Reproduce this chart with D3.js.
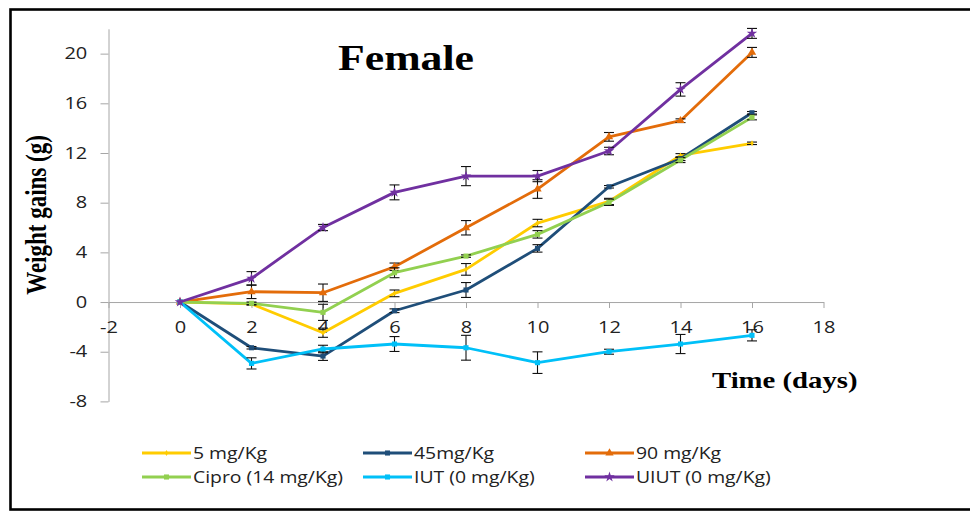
<!DOCTYPE html>
<html>
<head>
<meta charset="utf-8">
<script src="https://cdn.jsdelivr.net/npm/d3@7"></script>
<style>
html, body { margin: 0; padding: 0; background: #fff; }
svg { display: block; }
</style>
</head>
<body>
<div id="chart"></div>
<script>
// data
var days = [0, 2, 4, 6, 8, 10, 12, 14, 16];
var xTicks = [-2, 0, 2, 4, 6, 8, 10, 12, 14, 16, 18];
var yTicks = [-8, -4, 0, 4, 8, 12, 16, 20];
var seriesNames = ['5 mg/Kg', '45mg/Kg', '90 mg/Kg', 'Cipro (14 mg/Kg)', 'IUT (0 mg/Kg)', 'UIUT (0 mg/Kg)'];

var mg5 = [0, -0.15, -2.47, 0.7, 2.63, 6.36, 8.1, 11.8, 12.78];
var mg5Err = [0, 0.1, 0.37, 0.27, 0.47, 0.3, 0.25, 0.15, 0.1];
var mg45 = [0, -3.68, -4.35, -0.7, 0.97, 4.32, 9.28, 11.54, 15.24];
var mg45Err = [0, 0.1, 0.35, 0.15, 0.6, 0.3, 0.1, 0.15, 0.1];
var mg90 = [0, 0.83, 0.75, 2.84, 5.98, 9.1, 13.3, 14.6, 20.1];
var mg90Err = [0, 0.55, 0.7, 0.3, 0.58, 0.75, 0.35, 0.15, 0.4];
var cipro = [0, -0.1, -0.83, 2.36, 3.7, 5.45, 8.03, 11.43, 14.87];
var ciproErr = [0, 0.1, 0.65, 0.4, 0.1, 0.3, 0.25, 0.2, 0.2];
var iut = [0, -4.94, -3.78, -3.38, -3.68, -4.88, -4.0, -3.38, -2.68];
var iutErr = [0, 0.45, 0.3, 0.6, 1.0, 0.87, 0.2, 0.77, 0.45];
var uiut = [0, 1.9, 6.0, 8.83, 10.14, 10.14, 12.16, 17.12, 21.63];
var uiutErr = [0, 0.55, 0.25, 0.6, 0.77, 0.45, 0.3, 0.54, 0.4];

var W = 970, H = 511;
var SX = 1.25; // source image is stretched horizontally, text too

var series = [
	{ name: seriesNames[0], values: mg5, err: mg5Err, color: '#ffcc00', symbol: d3.symbolDiamond, size: 10 },
	{ name: seriesNames[1], values: mg45, err: mg45Err, color: '#1f4e79', symbol: d3.symbolSquare, size: 26 },
	{ name: seriesNames[2], values: mg90, err: mg90Err, color: '#e36c0a', symbol: d3.symbolTriangle, size: 30 },
	{ name: seriesNames[3], values: cipro, err: ciproErr, color: '#92d050', symbol: d3.symbolSquare, size: 26 },
	{ name: seriesNames[4], values: iut, err: iutErr, color: '#00c0f8', symbol: d3.symbolSquare, size: 26 },
	{ name: seriesNames[5], values: uiut, err: uiutErr, color: '#7030a0', symbol: d3.symbolStar, size: 34 }
];

var svg = d3.select('#chart').append('svg')
	.attr('xmlns', 'http://www.w3.org/2000/svg')
	.attr('width', W).attr('height', H);

svg.append('rect').attr('width', W).attr('height', H).attr('fill', '#fff');
// frame (right edge falls outside the picture)
svg.append('rect')
	.attr('x', 10.5).attr('y', 9.5).attr('width', 990).attr('height', 500)
	.attr('fill', 'none').attr('stroke', '#000').attr('stroke-width', 2.6);

var x = d3.scaleLinear().domain([-2, 18]).range([108.5, 823.5]);
var y = d3.scaleLinear().domain([-8, 22]).range([401.4, 28.8]);

function drawText(g, px, py, str, size, family, weight, anchor, rot) {
	return g.append('text')
		.attr('transform', 'translate(' + px + ',' + py + ') scale(' + SX + ',1)' + (rot ? ' rotate(' + rot + ')' : ''))
		.attr('font-family', family)
		.attr('font-size', size)
		.attr('font-weight', weight || 'normal')
		.attr('text-anchor', anchor || 'start')
		.attr('fill', '#000')
		.text(str);
}

// axes, plain hyphen for negatives like the source
var fmt = function (d) { return String(d); };
var yAxis = svg.append('g').attr('class', 'y-axis').attr('transform', 'translate(' + x(-2) + ',0)')
	.call(d3.axisLeft(y).tickValues(yTicks).tickFormat(fmt).tickSize(8).tickSizeOuter(0).tickPadding(9));
var xAxis = svg.append('g').attr('class', 'x-axis').attr('transform', 'translate(0,' + y(0) + ')')
	.call(d3.axisBottom(x).tickValues(xTicks).tickFormat(fmt).tickSize(6).tickSizeOuter(0).tickPadding(14));

[yAxis, xAxis].forEach(function (g) {
	g.select('.domain').attr('stroke', '#a6a6a6');
	g.selectAll('.tick line').attr('stroke', '#a6a6a6');
	g.selectAll('.tick text')
		.attr('font-family', 'Open Sans, sans-serif')
		.attr('font-size', 16)
		.attr('fill', '#222');
});
yAxis.selectAll('.tick text').attr('transform', 'scale(' + SX + ',1)');
xAxis.selectAll('.tick text').attr('transform', 'scale(' + SX + ',1)');

// series: line, error bars, markers
var line = d3.line().x(function (d) { return x(d.day); }).y(function (d) { return y(d.v); });

series.forEach(function (s) {
	var pts = days.map(function (d, i) { return { day: d, v: s.values[i], e: s.err[i] }; });
	var g = svg.append('g').attr('class', 'series');
	g.append('path').datum(pts)
		.attr('d', line)
		.attr('fill', 'none')
		.attr('stroke', s.color)
		.attr('stroke-width', 2.8)
		.attr('stroke-linejoin', 'round');

	var eb = g.selectAll('.err').data(pts.filter(function (p) { return p.e > 0; })).enter().append('g')
		.attr('stroke', '#111').attr('stroke-width', 1.1);
	eb.append('line')
		.attr('x1', function (p) { return x(p.day); }).attr('x2', function (p) { return x(p.day); })
		.attr('y1', function (p) { return y(p.v + p.e); }).attr('y2', function (p) { return y(p.v - p.e); });
	eb.append('line')
		.attr('x1', function (p) { return x(p.day) - 5; }).attr('x2', function (p) { return x(p.day) + 5; })
		.attr('y1', function (p) { return y(p.v + p.e); }).attr('y2', function (p) { return y(p.v + p.e); });
	eb.append('line')
		.attr('x1', function (p) { return x(p.day) - 5; }).attr('x2', function (p) { return x(p.day) + 5; })
		.attr('y1', function (p) { return y(p.v - p.e); }).attr('y2', function (p) { return y(p.v - p.e); });

	g.selectAll('.mk').data(pts).enter().append('path')
		.attr('transform', function (p) { return 'translate(' + x(p.day) + ',' + y(p.v) + ')'; })
		.attr('d', d3.symbol().type(s.symbol).size(s.size))
		.attr('fill', s.color);
});

// titles
drawText(svg, 338, 70, 'Female', 35, 'Liberation Serif, Times New Roman, serif', 'bold');
drawText(svg, 712, 388, 'Time (days)', 23, 'Liberation Serif, Times New Roman, serif', 'bold');
drawText(svg, 46, 215, 'Weight gains (g)', 23, 'Liberation Serif, Times New Roman, serif', 'bold', 'middle', -90);

// legend, 3 columns x 2 rows
var legX = [142, 363, 585], legY = [453, 477];
series.forEach(function (s, i) {
	var lx = legX[i % 3], ly = legY[Math.floor(i / 3)];
	var lg = svg.append('g').attr('class', 'legend');
	lg.append('line').attr('x1', lx).attr('x2', lx + 49).attr('y1', ly).attr('y2', ly)
		.attr('stroke', s.color).attr('stroke-width', 2.8);
	lg.append('path').attr('transform', 'translate(' + (lx + 24.5) + ',' + ly + ')')
		.attr('d', d3.symbol().type(s.symbol).size(s.size)).attr('fill', s.color);
	drawText(lg, lx + 51, ly + 5.5, s.name, 15.5, 'Open Sans, sans-serif', 'normal').attr('fill', '#222');
});
</script>
</body>
</html>
